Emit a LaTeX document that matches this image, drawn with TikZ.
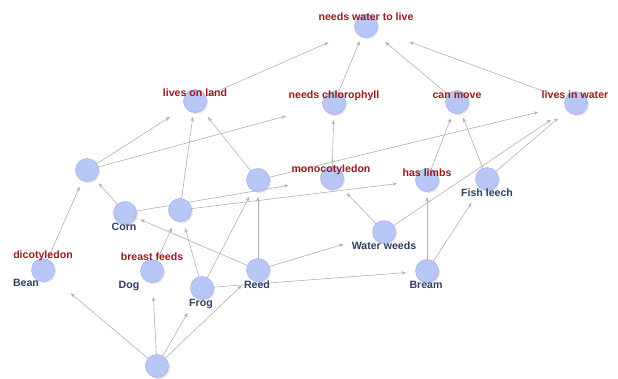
\documentclass[tikz,border=0pt]{standalone}
\usepackage{fontspec}
\setmainfont{Liberation Sans}
\usetikzlibrary{arrows.meta,shadows}
\pgfdeclarelayer{background}
\pgfsetlayers{background,main}
\definecolor{cfill}{HTML}{B9C7F7}
\definecolor{cdraw}{HTML}{9DAEF0}
\definecolor{lred}{HTML}{9A1A1E}
\definecolor{lblue}{HTML}{2F3F62}
\definecolor{edgec}{HTML}{B0B0B0}
\begin{document}
\begin{tikzpicture}[x=1pt,y=-1pt,
  concept/.style={circle,fill=cfill,draw=cdraw,line width=0.5pt,minimum size=23pt,inner sep=0pt,
    drop shadow={shadow xshift=1.5pt,shadow yshift=-1.5pt,opacity=0.22,fill=gray}},
  lab/.style={inner sep=0pt,text height=7.6pt,text depth=0pt,font=\bfseries\fontsize{10.6}{12}\selectfont},
  rlab/.style={lab,text=lred},
  blab/.style={lab,text=lblue},
  edge/.style={draw=edgec,line width=0.6pt,-{Stealth[length=4.5pt,width=3.6pt]}}]
\useasboundingbox (0,0) rectangle (618,378);
% concept circles
\node[concept] (W) at (366,26) {};
\node[concept] (L) at (195,101) {};
\node[concept] (C) at (334,103) {};
\node[concept] (M) at (457,102) {};
\node[concept] (LW) at (576,103) {};
\node[concept] (A) at (87,170) {};
\node[concept] (B) at (258,180) {};
\node[concept] (Mo) at (332,178) {};
\node[concept] (H) at (427,180) {};
\node[concept] (F) at (487,179) {};
\node[concept] (Corn) at (125,213) {};
\node[concept] (X) at (180,210) {};
\node[concept] (WW) at (384,232) {};
\node[concept] (Bean) at (43,270) {};
\node[concept] (Dog) at (152,271) {};
\node[concept] (Frog) at (202,288) {};
\node[concept] (Reed) at (258,270) {};
\node[concept] (Bream) at (427,271) {};
\node[concept] (Bot) at (157,366) {};
% labels
\node[rlab] (Wl) at (366,17) {needs water to live};
\node[rlab] (Ll) at (195,93) {lives on land};
\node[rlab] (Cl) at (334,95) {needs chlorophyll};
\node[rlab] (Ml) at (457,95) {can move};
\node[rlab] (LWl) at (575,95) {lives in water};
\node[rlab] (Mol) at (331,169) {monocotyledon};
\node[rlab] (Hl) at (427,173) {has limbs};
\node[blab] (Fl) at (487,193) {Fish leech};
\node[blab] (Cornl) at (124,227) {Corn};
\node[blab] (WWl) at (384,246) {Water weeds};
\node[blab] (Breaml) at (426,285) {Bream};
\node[blab] (Reedl) at (257,285) {Reed};
\node[blab] (Frogl) at (201,303) {Frog};
\node[rlab] (Dogr) at (152,257) {breast feeds};
\node[blab] (Dogl) at (129,285) {Dog};
\node[rlab] (Beanr) at (43,255) {dicotyledon};
\node[blab] (Beanl) at (26,283) {Bean};
% connectors
\begin{pgfonlayer}{background}
\draw[edge,shorten >=40.9pt] (L.center) -- (W.center);
\draw[edge,shorten >=16.6pt] (C.center) -- (W.center);
\draw[edge,shorten >=25pt] (M.center) -- (W.center);
\draw[edge,shorten >=46.2pt] (LW.center) -- (W.center);
\draw[edge,shorten >=29.7pt] (A.center) -- (L.center);
\draw[edge,shorten >=49.7pt] (A.center) -- (C.center);
\draw[edge,shorten >=20.6pt] (B.center) -- (L.center);
\draw[edge,shorten >=16.1pt] (X.center) -- (L.center);
\draw[edge,shorten >=17pt] (Mo.center) -- (C.center);
\draw[edge,shorten >=38.8pt] (B.center) -- (LW.center);
\draw[edge,shorten >=17.5pt] (H.center) -- (M.center);
\draw[edge,shorten >=17.1pt] (F.center) -- (M.center);
\draw[edge,shorten >=30pt] (WW.center) -- (LW.center);
\draw[edge,shorten >=23.6pt] (F.center) -- (LW.center);
\draw[edge,shorten >=18.4pt] (Bean.center) -- (A.center);
\draw[edge,shorten >=17.7pt] (Corn.center) -- (A.center);
\draw[edge,shorten >=44.3pt] (Corn.center) -- (Mo.center);
\draw[edge,shorten >=30.1pt] (X.center) -- (H.center);
\draw[edge,shorten >=19.3pt] (Dog.center) -- (X.center);
\draw[edge,shorten >=18.7pt] (Frog.center) -- (X.center);
\draw[edge,shorten >=18.8pt] (Frog.center) -- (B.center);
\draw[edge,shorten >=17pt] (Reed.center) -- (B.center);
\draw[edge,shorten >=16.6pt] (Reed.center) -- (Corn.center);
\draw[edge,shorten >=42.4pt] (Reed.center) -- (WW.center);
\draw[edge,shorten >=21.1pt] (Frog.center) -- (Bream.center);
\draw[edge,shorten >=36.2pt] (Bot.center) -- (Bean.center);
\draw[edge,shorten >=26pt] (Bot.center) -- (Dog.center);
\draw[edge,shorten >=28.7pt] (Bot.center) -- (Frog.center);
\draw[edge,shorten >=22.6pt] (Bot.center) -- (Reed.center);
\draw[edge,shorten >=21.3pt] (WW.center) -- (Mo.center);
\draw[edge,shorten >=17pt] (Bream.center) -- (H.center);
\draw[edge,shorten >=28.3pt] (Bream.center) -- (F.center);
\end{pgfonlayer}
\end{tikzpicture}
\end{document}
